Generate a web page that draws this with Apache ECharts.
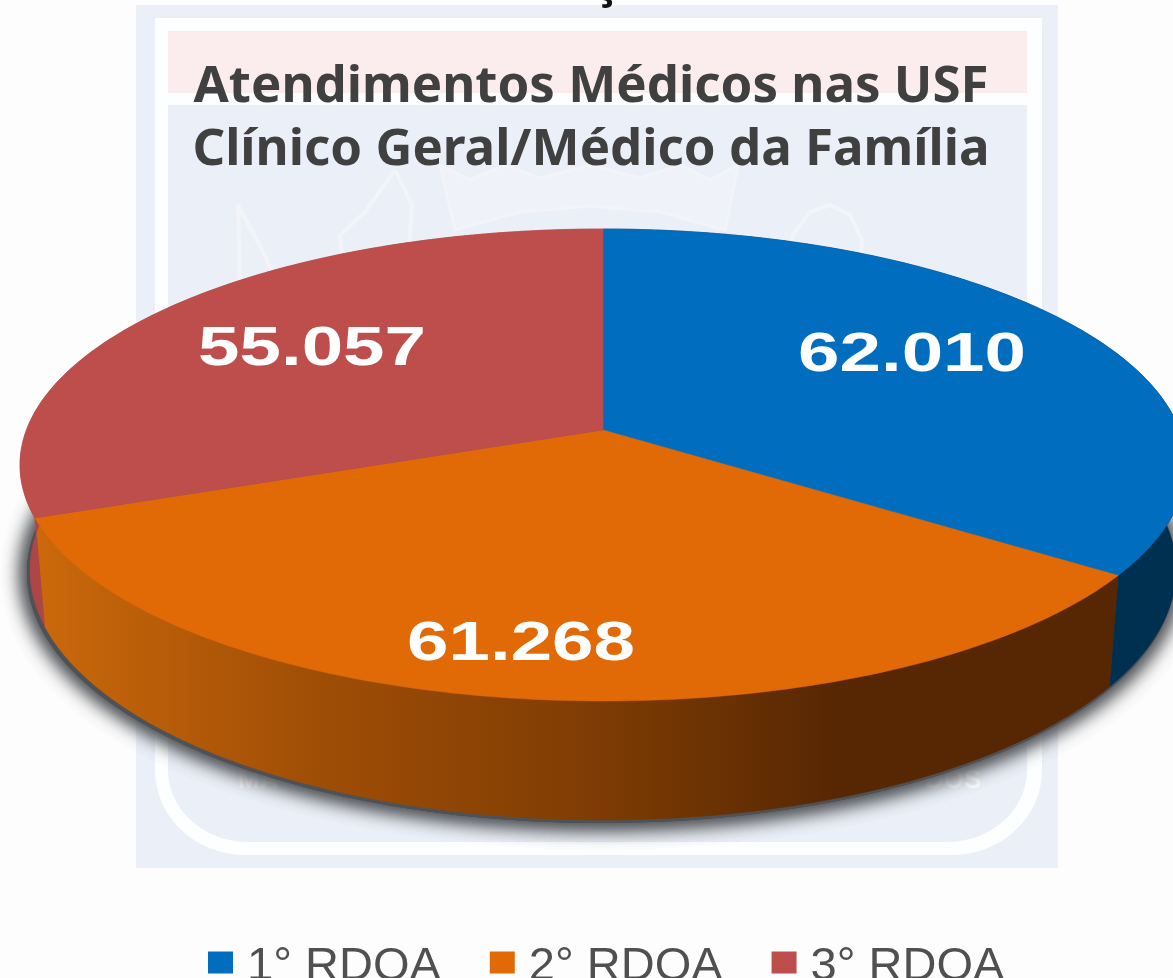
<!DOCTYPE html>
<html><head><meta charset="utf-8">
<style>html,body{margin:0;padding:0;background:#fdfdfd}#c{width:1173px;height:978px}</style>
<script src="https://cdn.jsdelivr.net/npm/echarts@6/dist/echarts.min.js"></script></head>
<body><div id="c"></div>
<script>
const categories = ['1° RDQA','2° RDQA','3° RDQA'];
const values = [62010,61268,55057];
const valueLabels = ['62.010','61.268','55.057'];
const topColors = ['#006dbf','#e16a07','#bd4e4c'];
const titleLines = ['Atendimentos Médicos nas USF','Clínico Geral/Médico da Família'];

// layout of the tilted disc
const TOP = {cx:603, cy:465, a:583, b:236};
const BOT = {cx:603, cy:570, a:573, b:250};
const TILT = 0.148, APEX = [603,430];
const labelAnchors = [[912,356],[521,645],[312,350]];

const total = values.reduce((s,v)=>s+v,0);
const D2R = Math.PI/180;
function persp(theta){ // true angle -> projected ellipse angle
  const c = Math.cos(theta), s = Math.sin(theta);
  const d = 1 + TILT*c;
  return Math.atan2(s*Math.sqrt(1-TILT*TILT)/d, (c+TILT)/d);
}
function onEll(E,phi){return [E.cx+E.a*Math.sin(phi), E.cy-E.b*Math.cos(phi)];}
function arc(E,t0,t1){
  const pts=[], n=Math.ceil((t1-t0)/D2R);
  for(let i=0;i<=n;i++) pts.push(onEll(E,persp(t0+(t1-t0)*i/n)));
  return pts;
}
const wallFill = [
  '#003050',
  new echarts.graphic.LinearGradient(30,0,1120,0,[
    {offset:0,color:'#cc690b'},{offset:0.26,color:'#a04e06'},{offset:0.52,color:'#7e3c04'},
    {offset:0.74,color:'#572703'},{offset:1,color:'#572703'}],true),
  '#ad4646'
];
function renderSlice(idx){
  return function(params,api){
    const v = api.value(0);
    let start = 0; for(let i=0;i<idx;i++) start += values[i];
    const t0 = start/total*2*Math.PI, t1 = (start+v)/total*2*Math.PI;
    const col = api.visual('color');
    const topArc = arc(TOP,t0,t1), botArc = arc(BOT,t0,t1);
    const a = labelAnchors[idx];
    return {type:'group',children:[
      {type:'polygon',z2:1,shape:{points:topArc.concat(botArc.slice().reverse())},
        style:{fill:wallFill[idx],stroke:wallFill[idx],lineWidth:0.5}},
      {type:'polygon',z2:5,shape:{points:[APEX].concat(topArc)},
        style:{fill:col,stroke:col,lineWidth:0.5}},
      {type:'text',z2:9,x:a[0],y:a[1],scaleX:1.33,
        style:{text:valueLabels[idx],x:0,y:0,align:'center',verticalAlign:'middle',
          fill:'#fff',font:'bold 56px "Liberation Sans"'}}
    ]};
  };
}
// rounded-bottom frame polygon for the faded backdrop
function frame(x0,x1,y0,y1,rx,ry){
  const pts=[[x0,y0],[x1,y0]];
  for(let i=0;i<=24;i++){const t=i/24*Math.PI/2; pts.push([x1-rx+rx*Math.cos(t),y1-ry+ry*Math.sin(t)]);}
  for(let i=0;i<=24;i++){const t=i/24*Math.PI/2; pts.push([x0+rx-rx*Math.sin(t),y1-ry+ry*Math.cos(t)]);}
  return pts;
}
const wm = '#f2f4fa';
const softShadow = () => ({type:'ellipse',z:-1,shape:{cx:601,cy:573,rx:574,ry:250},
    style:{fill:'#4e5155',shadowBlur:22,shadowColor:'#4e5155'}});
const graphics = [
  {type:'rect',z:-5,shape:{x:136,y:5,width:922,height:863},style:{fill:'#ebeff7'}},
  {type:'polygon',z:-4,shape:{points:frame(155,1042,18,855,90,85)},style:{fill:'#fdfeff'}},
  {type:'polygon',z:-3,shape:{points:frame(168,1027,105,842,80,72)},style:{fill:'#ebeff7'}},
  {type:'rect',z:-3,shape:{x:168,y:31,width:859,height:62},style:{fill:'#fbeced'}},
  {type:'polygon',z:-2,shape:{points:[[440,165],[470,180],[505,165],[540,178],[590,165],[640,178],[680,165],[710,180],[738,165],[725,230],[660,212],[590,206],[520,212],[455,230]]},style:{fill:'#eff2f8',stroke:wm,lineWidth:3}},
  {type:'polyline',z:-2,shape:{points:[[238,205],[262,250],[280,290],[240,290],[238,205]]},style:{fill:'none',stroke:wm,lineWidth:4}},
  {type:'polyline',z:-2,shape:{points:[[395,170],[412,205],[408,260],[345,280],[340,235],[365,212],[395,170]]},style:{fill:'none',stroke:wm,lineWidth:4}},
  {type:'polyline',z:-2,shape:{points:[[790,270],[793,235],[810,212],[830,205],[850,215],[862,240],[860,270]]},style:{fill:'none',stroke:wm,lineWidth:4}},
  {type:'text',z:-2,x:238,y:768,style:{text:'MA',font:'bold 26px "Liberation Sans"',fill:'#fbfcfe'}},
  {type:'text',z:-2,x:925,y:768,style:{text:'DOS',font:'bold 26px "Liberation Sans"',fill:'#fbfcfe'}},
  {type:'text',z:-2,x:594,y:-38,style:{text:'ç',font:'bold 44px "Noto Sans"',fill:'#111'}},
  softShadow(), softShadow(), softShadow()
];
const chart = echarts.init(document.getElementById('c'),null,{renderer:'canvas'});
chart.setOption({
  animation:false,
  backgroundColor:'#fdfdfd',
  color:topColors,
  title:titleLines.map((t,i)=>({text:t,left:591,textAlign:'center',top:62+i*63,padding:0,
    textStyle:{fontFamily:'"Noto Sans"',fontWeight:'bold',fontSize:51,color:'#404040'}})),
  legend:{left:208,top:944,padding:0,itemWidth:25,itemHeight:22,itemGap:49,icon:'rect',data:categories,
    formatter:'{a|{name}}',
    textStyle:{rich:{a:{fontFamily:'"Liberation Sans"',fontSize:47,color:'#505050',padding:[10,0,0,9]}}}},
  graphic:graphics,
  series:categories.map((name,i)=>({
    type:'custom',name,coordinateSystem:'none',
    renderItem:renderSlice(i),
    itemStyle:{color:topColors[i]},
    data:[[values[i]]]
  }))
});
</script></body></html>
